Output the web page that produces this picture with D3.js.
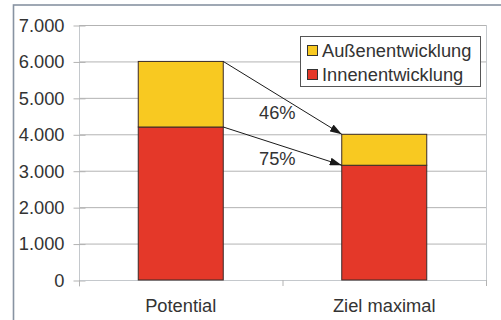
<!DOCTYPE html>
<html><head><meta charset="utf-8">
<script src="https://cdn.jsdelivr.net/npm/d3@7"></script>
<style>
html,body{margin:0;padding:0;background:#fff;overflow:hidden;}
svg{display:block;font-family:"Liberation Sans",Arial,sans-serif;}
</style></head>
<body>
<svg id="c" width="501" height="320"></svg>
<script>
const categories = ["Potential", "Ziel maximal"];
const innen = [4200, 3150];
const aussen = [1800, 850];
const seriesNames = ["Außenentwicklung", "Innenentwicklung"];
const yTicks = [0, 1000, 2000, 3000, 4000, 5000, 6000, 7000];
const yTickLabels = ["0", "1.000", "2.000", "3.000", "4.000", "5.000", "6.000", "7.000"];
const percentLabels = ["46%", "75%"];

const colors = {aussen: "#F8C921", innen: "#E43829"};
const svg = d3.select("#c");
const L = 79, R = 486, T = 25, B = 280;
const fs = 18.3;

// outer frame
svg.append("rect").attr("x", 13.5).attr("y", 5).attr("width", 520).attr("height", 340)
  .attr("fill", "#fff").attr("stroke", "#8893a2").attr("stroke-width", 1.6);

const x = d3.scaleBand().domain(categories).range([L, R]).padding(0);
const y = d3.scaleLinear().domain([0, 7000]).range([B, T]);
const bw = 85;

// gridlines
svg.append("g").selectAll("line").data(yTicks.filter(d => d > 0)).join("line")
  .attr("x1", L).attr("x2", R).attr("y1", d => y(d) + 0.5).attr("y2", d => y(d) + 0.5)
  .attr("stroke", "#b3b3b3").attr("stroke-width", 1);

// right border of plot area
svg.append("line").attr("x1", R + 0.5).attr("x2", R + 0.5).attr("y1", T).attr("y2", B + 5)
  .attr("stroke", "#c4c8cc");

// y axis
const yAxis = d3.axisLeft(y).tickValues(yTicks).tickFormat((d, i) => yTickLabels[i]).tickSize(6).tickPadding(9);
const gy = svg.append("g").attr("transform", `translate(${L + 0.5},0.5)`).call(yAxis);
gy.select(".domain").attr("stroke", "#c4c8cc").attr("d", `M0,${T}V${B + 6}`);
gy.selectAll(".tick line").attr("stroke", "#b3b3b3").attr("x2", 6).attr("x1", -6);
gy.selectAll(".tick text").attr("font-size", fs).attr("fill", "#333").attr("font-family", "Liberation Sans, Arial, sans-serif");

// x axis
const xAxis = d3.axisBottom(x).tickSize(0).tickPadding(19);
const gx = svg.append("g").attr("transform", `translate(0,${B + 0.5})`).call(xAxis);
gx.select(".domain").attr("stroke", "#c4c8cc").attr("d", `M${L},0H${R}`);
gx.selectAll(".tick text").attr("font-size", fs).attr("fill", "#333").attr("font-family", "Liberation Sans, Arial, sans-serif");
// category separators
svg.append("g").selectAll("line").data([0, 1, 2]).join("line")
  .attr("x1", i => L + i * x.step() + 0.5).attr("x2", i => L + i * x.step() + 0.5)
  .attr("y1", B).attr("y2", B + 6).attr("stroke", "#b3b3b3");

// bars
const cx = c => x(c) + x.bandwidth() / 2;
const bars = svg.append("g");
categories.forEach((c, i) => {
  bars.append("rect").attr("x", cx(c) - bw / 2).attr("width", bw)
    .attr("y", y(innen[i])).attr("height", y(0) - y(innen[i]))
    .attr("fill", colors.innen).attr("stroke", "#3a2a28").attr("stroke-width", 1);
  bars.append("rect").attr("x", cx(c) - bw / 2).attr("width", bw)
    .attr("y", y(innen[i] + aussen[i])).attr("height", y(innen[i]) - y(innen[i] + aussen[i]))
    .attr("fill", colors.aussen).attr("stroke", "#3a2a28").attr("stroke-width", 1);
});

// arrows
const defs = svg.append("defs");
defs.append("marker").attr("id", "ah").attr("viewBox", "0 0 12 8").attr("refX", 12).attr("refY", 4)
  .attr("markerWidth", 12).attr("markerHeight", 8).attr("markerUnits", "userSpaceOnUse").attr("orient", "auto")
  .append("path").attr("d", "M0,0L12,4L0,8Z").attr("fill", "#1a1a1a");
const arrows = [
  {from: innen[0] + aussen[0], to: innen[1] + aussen[1]},
  {from: innen[0], to: innen[1]}
];
arrows.forEach(a => {
  svg.append("line").attr("x1", cx(categories[0]) + bw / 2).attr("y1", y(a.from))
    .attr("x2", cx(categories[1]) - bw / 2).attr("y2", y(a.to))
    .attr("stroke", "#1a1a1a").attr("stroke-width", 1).attr("marker-end", "url(#ah)");
});
svg.append("text").attr("x", 259).attr("y", 119).text(percentLabels[0])
  .attr("font-size", fs).attr("fill", "#333");
svg.append("text").attr("x", 259).attr("y", 165).text(percentLabels[1])
  .attr("font-size", fs).attr("fill", "#333");

// legend
const lg = svg.append("g");
lg.append("rect").attr("x", 300.5).attr("y", 36.5).attr("width", 180).attr("height", 50)
  .attr("fill", "#fff").attr("stroke", "#555").attr("stroke-width", 1);
[{n: seriesNames[0], c: colors.aussen}, {n: seriesNames[1], c: colors.innen}].forEach((s, i) => {
  lg.append("rect").attr("x", 307.5).attr("y", 45.5 + i * 24).attr("width", 10).attr("height", 10)
    .attr("fill", s.c).attr("stroke", "#333");
  lg.append("text").attr("x", 322).attr("y", 56.5 + i * 24).text(s.n)
    .attr("font-size", fs).attr("fill", "#333");
});
</script>
</body></html>
